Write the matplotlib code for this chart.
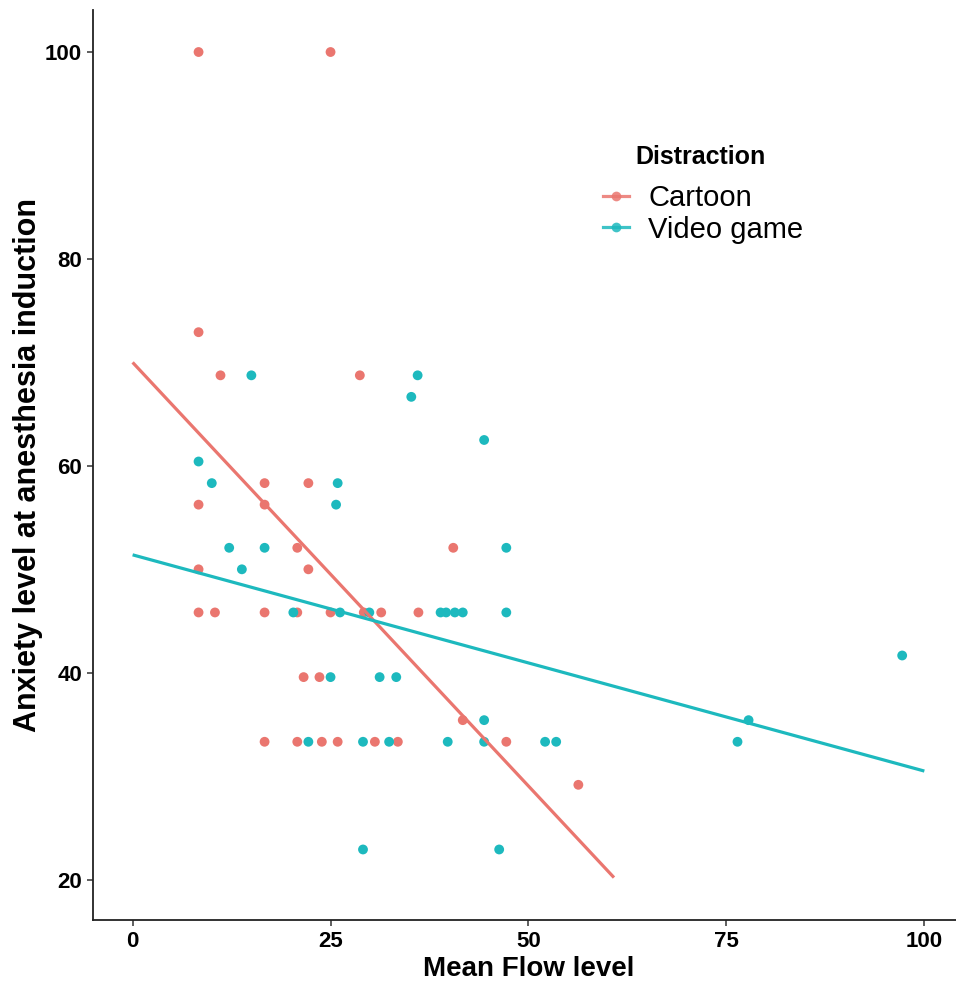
import matplotlib.pyplot as plt
from matplotlib.lines import Line2D

# points (Mean Flow level, anxiety score)
cartoon_x = [8.33, 25.0, 8.33, 11.1, 28.7, 16.67, 22.2, 8.33, 16.67, 20.8, 40.5, 8.33, 22.2,
             8.33, 10.4, 16.67, 20.8, 25.0, 29.2, 31.4, 36.1,
             21.6, 23.6,
             41.7,
             16.67, 20.8, 23.9, 25.9, 30.6, 33.5, 47.2,
             56.3]
cartoon_y = [100, 100, 72.92, 68.75, 68.75, 58.33, 58.33, 56.25, 56.25, 52.08, 52.08, 50.0, 50.0,
             45.83, 45.83, 45.83, 45.83, 45.83, 45.83, 45.83, 45.83,
             39.58, 39.58,
             35.42,
             33.33, 33.33, 33.33, 33.33, 33.33, 33.33, 33.33,
             29.17]

video_x = [15.0, 36.0, 35.2, 44.4, 8.33, 10.0, 25.9, 25.7, 12.2, 16.67, 47.2, 13.8,
           20.3, 26.2, 29.9, 38.9, 39.6, 40.7, 41.7, 47.2,
           97.2,
           25.0, 31.2, 33.3,
           44.4, 77.8,
           22.2, 29.1, 32.4, 39.8, 44.4, 52.1, 53.5, 76.4,
           29.1, 46.3]
video_y = [68.75, 68.75, 66.67, 62.5, 60.42, 58.33, 58.33, 56.25, 52.08, 52.08, 52.08, 50.0,
           45.83, 45.83, 45.83, 45.83, 45.83, 45.83, 45.83, 45.83,
           41.67,
           39.58, 39.58, 39.58,
           35.42, 35.42,
           33.33, 33.33, 33.33, 33.33, 33.33, 33.33, 33.33, 33.33,
           22.92, 22.92]

# fitted lines (intercept, slope, x range)
cartoon_fit = (70.0, -0.819, 0, 60.8)
video_fit = (51.4, -0.209, 0, 100)

groups = ["Cartoon", "Video game"]
colors = ["#EA766F", "#1DB9BE"]

fig = plt.figure(figsize=(9.56, 9.82), dpi=100)
ax = fig.add_axes([0.0973, 0.0631, 0.911, 0.9267])

for (xs, ys, fit, col) in [(cartoon_x, cartoon_y, cartoon_fit, colors[0]),
                           (video_x, video_y, video_fit, colors[1])]:
    ax.scatter(xs, ys, s=50, color=col, edgecolors="none", zorder=2)
    b0, b1, x0, x1 = fit
    ax.plot([x0, x1], [b0 + b1 * x0, b0 + b1 * x1], color=col, lw=2.3, zorder=3,
            solid_capstyle="butt")

ax.set_xlim(-5, 105)
ax.set_ylim(16.1, 104.06)
ax.set_xticks([0, 25, 50, 75, 100])
ax.set_yticks([20, 40, 60, 80, 100])

for s in ["top", "right"]:
    ax.spines[s].set_visible(False)
for s in ["left", "bottom"]:
    ax.spines[s].set_linewidth(1.3)
    ax.spines[s].set_color("#222222")

font = "Liberation Sans"
ax.tick_params(length=4, width=1.1, color="#333333", pad=4)
for lab in ax.get_xticklabels() + ax.get_yticklabels():
    lab.set_family(font)
    lab.set_fontweight("bold")
    lab.set_fontsize(16)
    lab.set_color("black")

ax.set_xlabel("Mean Flow level", family=font, fontweight="bold", fontsize=20)
ax.set_ylabel("Anxiety level at anesthesia induction", family=font, fontweight="bold",
              fontsize=22)
ax.xaxis.set_label_coords(0.5, -0.039)
ax.yaxis.set_label_coords(-0.0574, 0.5)

# legend: title drawn as its own text, entries below
fig.text(0.733, 1 - 157 / 982, "Distraction", family=font, fontweight="bold", fontsize=18,
         ha="center", va="center")
handles = [Line2D([], [], color=c, lw=2.3, marker="o", markersize=7, markeredgewidth=0,
                  alpha=0.85)
           for c in colors]
leg = ax.legend(handles, groups, loc="upper left",
                bbox_to_anchor=(603 / 956, 1 - 184 / 982), bbox_transform=fig.transFigure,
                frameon=False, borderpad=0, borderaxespad=0,
                prop={"family": font, "size": 21},
                handlelength=0.9, handletextpad=0.65, labelspacing=0.12)

fig.savefig("out.png", dpi=100)
